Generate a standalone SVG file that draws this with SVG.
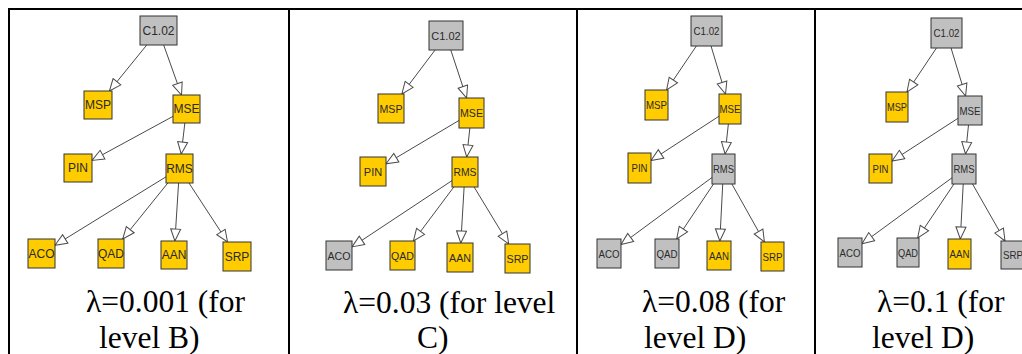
<svg xmlns="http://www.w3.org/2000/svg" width="1022" height="354" viewBox="0 0 1022 354">
<style>
.y{fill:#ffcc00;stroke:#333;stroke-width:1}
.g{fill:#c0c0c0;stroke:#333;stroke-width:1}
.l{font-family:"Liberation Sans",Arial,sans-serif;fill:#2a2a2a;text-anchor:middle;dominant-baseline:central}
.p1{font-size:12px}.p2{font-size:11px}.p3{font-size:11px}
.e{stroke:#4a4a4a;stroke-width:1;fill:none;marker-end:url(#arr)}
.cap{font-family:"Liberation Serif","Times New Roman",serif;font-size:31.5px;fill:#000}
.b{stroke:#000;stroke-width:2}
</style>
<defs>
<marker id="arr" markerUnits="userSpaceOnUse" markerWidth="14" markerHeight="12" viewBox="-1 -1 14 12" refX="12" refY="5" orient="auto"><path d="M0,0 L12,5 L0,10 z" fill="#fff" stroke="#4a4a4a"/></marker>
</defs>
<rect width="1022" height="354" fill="#fff"/>
<g id="borders">
<line class="b" x1="8" y1="9" x2="1022" y2="9"/>
<line class="b" x1="9" y1="8" x2="9" y2="354"/>
<line class="b" x1="289" y1="8" x2="289" y2="354"/>
<line class="b" x1="577" y1="8" x2="577" y2="354"/>
<line class="b" x1="815" y1="8" x2="815" y2="354"/>
</g>
<g id="connectors">
<!-- panel 1 -->
<line class="e" x1="158.5" y1="30.5" x2="109.4" y2="91"/>
<line class="e" x1="158.5" y1="30.5" x2="181.5" y2="95"/>
<line class="e" x1="186.5" y1="109" x2="92" y2="160.4"/>
<line class="e" x1="186.5" y1="109" x2="181.2" y2="154"/>
<line class="e" x1="179.5" y1="168.5" x2="55" y2="245.2"/>
<line class="e" x1="179.5" y1="168.5" x2="122.7" y2="239"/>
<line class="e" x1="179.5" y1="168.5" x2="174.9" y2="241"/>
<line class="e" x1="179.5" y1="168.5" x2="227.5" y2="242"/>
<!-- panel 2 -->
<line class="e" x1="446" y1="35.5" x2="401.9" y2="94"/>
<line class="e" x1="446" y1="35.5" x2="466.6" y2="98"/>
<line class="e" x1="471.5" y1="113" x2="386" y2="163.8"/>
<line class="e" x1="471.5" y1="113" x2="466.7" y2="157"/>
<line class="e" x1="465" y1="172" x2="352" y2="246.9"/>
<line class="e" x1="465" y1="172" x2="413.4" y2="241"/>
<line class="e" x1="465" y1="172" x2="460.8" y2="243"/>
<line class="e" x1="465" y1="172" x2="508.7" y2="244"/>
<!-- panel 3 -->
<line class="e" x1="706.5" y1="31" x2="666.6" y2="90"/>
<line class="e" x1="706.5" y1="31" x2="725.5" y2="94"/>
<line class="e" x1="730" y1="109" x2="651" y2="160.5"/>
<line class="e" x1="730" y1="109" x2="725.1" y2="154"/>
<line class="e" x1="723.5" y1="169" x2="621" y2="244.6"/>
<line class="e" x1="723.5" y1="169" x2="676.7" y2="239"/>
<line class="e" x1="723.5" y1="169" x2="719.8" y2="241"/>
<line class="e" x1="723.5" y1="169" x2="764.4" y2="242"/>
<!-- panel 4 -->
<line class="e" x1="946.5" y1="33" x2="907" y2="92"/>
<line class="e" x1="946.5" y1="33" x2="965.6" y2="96"/>
<line class="e" x1="970" y1="110.5" x2="892" y2="161"/>
<line class="e" x1="970" y1="110.5" x2="965.5" y2="154"/>
<line class="e" x1="964" y1="169" x2="862" y2="243.7"/>
<line class="e" x1="964" y1="169" x2="917.7" y2="238"/>
<line class="e" x1="964" y1="169" x2="960.3" y2="239"/>
<line class="e" x1="964" y1="169" x2="1005" y2="241"/>
</g>
<!-- panel 1 nodes -->
<g id="p1-C102"><rect class="g" x="140" y="16" width="37" height="29"/><text class="l p1" x="158.5" y="30.5">C1.02</text></g>
<g id="p1-MSP"><rect class="y" x="84" y="91" width="28" height="28"/><text class="l p1" x="98" y="105">MSP</text></g>
<g id="p1-MSE"><rect class="y" x="173" y="95" width="27" height="28"/><text class="l p1" x="186.5" y="109">MSE</text></g>
<g id="p1-PIN"><rect class="y" x="64" y="154" width="28" height="28"/><text class="l p1" x="78" y="168">PIN</text></g>
<g id="p1-RMS"><rect class="y" x="166" y="154" width="27" height="29"/><text class="l p1" x="179.5" y="168.5">RMS</text></g>
<g id="p1-ACO"><rect class="y" x="28" y="239" width="27" height="29"/><text class="l p1" x="41.5" y="253.5">ACO</text></g>
<g id="p1-QAD"><rect class="y" x="98" y="239" width="26" height="29"/><text class="l p1" x="111" y="253.5">QAD</text></g>
<g id="p1-AAN"><rect class="y" x="161" y="241" width="26" height="28"/><text class="l p1" x="174" y="255">AAN</text></g>
<g id="p1-SRP"><rect class="y" x="223" y="242" width="28" height="29"/><text class="l p1" x="237" y="256.5">SRP</text></g>
<!-- panel 2 nodes -->
<g id="p2-C102"><rect class="g" x="429" y="21" width="34" height="29"/><text class="l p2" x="446" y="35.5">C1.02</text></g>
<g id="p2-MSP"><rect class="y" x="378" y="94" width="26" height="29"/><text class="l p2" x="391" y="108.5" textLength="23" lengthAdjust="spacingAndGlyphs">MSP</text></g>
<g id="p2-MSE"><rect class="y" x="459" y="98" width="25" height="30"/><text class="l p2" x="471.5" y="113" textLength="23" lengthAdjust="spacingAndGlyphs">MSE</text></g>
<g id="p2-PIN"><rect class="y" x="360" y="157" width="26" height="29"/><text class="l p2" x="373" y="171.5">PIN</text></g>
<g id="p2-RMS"><rect class="y" x="452" y="157" width="26" height="30"/><text class="l p2" x="465" y="172" textLength="23" lengthAdjust="spacingAndGlyphs">RMS</text></g>
<g id="p2-ACO"><rect class="g" x="326" y="241" width="26" height="29"/><text class="l p2" x="339" y="255.5" textLength="23" lengthAdjust="spacingAndGlyphs">ACO</text></g>
<g id="p2-QAD"><rect class="y" x="390" y="241" width="25" height="29"/><text class="l p2" x="402.5" y="255.5" textLength="23" lengthAdjust="spacingAndGlyphs">QAD</text></g>
<g id="p2-AAN"><rect class="y" x="447" y="243" width="26" height="29"/><text class="l p2" x="460" y="257.5" textLength="22" lengthAdjust="spacingAndGlyphs">AAN</text></g>
<g id="p2-SRP"><rect class="y" x="505" y="244" width="25" height="29"/><text class="l p2" x="517.5" y="258.5" textLength="22" lengthAdjust="spacingAndGlyphs">SRP</text></g>
<!-- panel 3 nodes -->
<g id="p3-C102"><rect class="g" x="691" y="16" width="31" height="30"/><text class="l p3" x="706.5" y="31" textLength="26" lengthAdjust="spacingAndGlyphs">C1.02</text></g>
<g id="p3-MSP"><rect class="y" x="645" y="90" width="23" height="30"/><text class="l p3" x="656.5" y="105" textLength="21" lengthAdjust="spacingAndGlyphs">MSP</text></g>
<g id="p3-MSE"><rect class="y" x="719" y="94" width="22" height="30"/><text class="l p3" x="730" y="109" textLength="21" lengthAdjust="spacingAndGlyphs">MSE</text></g>
<g id="p3-PIN"><rect class="y" x="628" y="153" width="23" height="30"/><text class="l p3" x="639.5" y="168" textLength="16" lengthAdjust="spacingAndGlyphs">PIN</text></g>
<g id="p3-RMS"><rect class="g" x="712" y="154" width="23" height="30"/><text class="l p3" x="723.5" y="169" textLength="21" lengthAdjust="spacingAndGlyphs">RMS</text></g>
<g id="p3-ACO"><rect class="g" x="597" y="239" width="24" height="29"/><text class="l p3" x="609" y="253.5" textLength="21" lengthAdjust="spacingAndGlyphs">ACO</text></g>
<g id="p3-QAD"><rect class="g" x="655" y="239" width="24" height="29"/><text class="l p3" x="667" y="253.5" textLength="21" lengthAdjust="spacingAndGlyphs">QAD</text></g>
<g id="p3-AAN"><rect class="y" x="707" y="241" width="24" height="29"/><text class="l p3" x="719" y="255.5" textLength="20" lengthAdjust="spacingAndGlyphs">AAN</text></g>
<g id="p3-SRP"><rect class="y" x="761" y="242" width="23" height="29"/><text class="l p3" x="772.5" y="256.5" textLength="20" lengthAdjust="spacingAndGlyphs">SRP</text></g>
<!-- panel 4 nodes -->
<g id="p4-C102"><rect class="g" x="931" y="18" width="31" height="30"/><text class="l p3" x="946.5" y="33" textLength="26" lengthAdjust="spacingAndGlyphs">C1.02</text></g>
<g id="p4-MSP"><rect class="y" x="886" y="92" width="22" height="30"/><text class="l p3" x="897" y="107" textLength="20" lengthAdjust="spacingAndGlyphs">MSP</text></g>
<g id="p4-MSE"><rect class="g" x="958" y="96" width="24" height="29"/><text class="l p3" x="970" y="110.5" textLength="21" lengthAdjust="spacingAndGlyphs">MSE</text></g>
<g id="p4-PIN"><rect class="y" x="869" y="154" width="23" height="29"/><text class="l p3" x="880.5" y="168.5" textLength="16" lengthAdjust="spacingAndGlyphs">PIN</text></g>
<g id="p4-RMS"><rect class="g" x="952" y="154" width="24" height="30"/><text class="l p3" x="964" y="169" textLength="21" lengthAdjust="spacingAndGlyphs">RMS</text></g>
<g id="p4-ACO"><rect class="g" x="838" y="238" width="24" height="29"/><text class="l p3" x="850" y="252.5" textLength="21" lengthAdjust="spacingAndGlyphs">ACO</text></g>
<g id="p4-QAD"><rect class="g" x="897" y="238" width="22" height="29"/><text class="l p3" x="908" y="252.5" textLength="20" lengthAdjust="spacingAndGlyphs">QAD</text></g>
<g id="p4-AAN"><rect class="y" x="948" y="239" width="23" height="30"/><text class="l p3" x="959.5" y="254" textLength="20" lengthAdjust="spacingAndGlyphs">AAN</text></g>
<g id="p4-SRP"><rect class="g" x="1001" y="241" width="24" height="28"/><text class="l p3" x="1013" y="255" textLength="20" lengthAdjust="spacingAndGlyphs">SRP</text></g>
<g id="captions">
<text class="cap" x="86" y="312">λ=0.001 (for</text>
<text class="cap" x="99" y="348">level B)</text>
<text class="cap" x="343" y="313">λ=0.03 (for level</text>
<text class="cap" x="417" y="348">C)</text>
<text class="cap" x="642" y="312">λ=0.08 (for</text>
<text class="cap" x="644" y="348">level D)</text>
<text class="cap" x="877" y="312">λ=0.1 (for</text>
<text class="cap" x="872" y="348">level D)</text>
</g>
</svg>
